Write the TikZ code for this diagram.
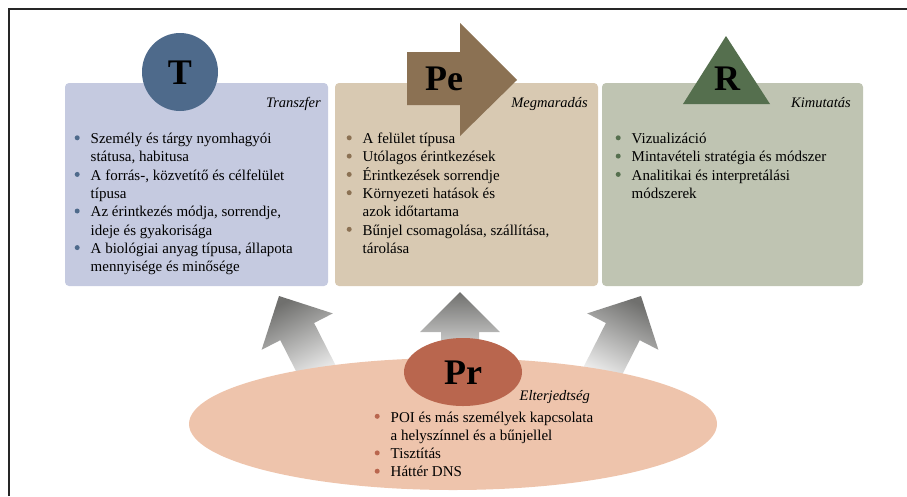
\documentclass[tikz,border=0pt]{standalone}
\usepackage{fontspec}
\setmainfont{Liberation Serif}
\usetikzlibrary{shapes.geometric}
\definecolor{tbox}{RGB}{197,202,224}
\definecolor{tcirc}{RGB}{78,106,139}
\definecolor{pebox}{RGB}{216,201,178}
\definecolor{pearr}{RGB}{139,113,83}
\definecolor{rbox}{RGB}{191,196,178}
\definecolor{rtri}{RGB}{85,111,78}
\definecolor{prell}{RGB}{238,196,172}
\definecolor{prcirc}{RGB}{185,102,78}
\definecolor{arrgray}{RGB}{112,112,110}
\newcommand\bl[1]{\makebox[16.5pt][l]{\hspace*{0.5pt}\textcolor{#1}{\rule{0pt}{0pt}\raisebox{3.2pt}{\tikz\fill (0pt,0pt) circle (2.5pt);}}}}
\newcommand\ind{\hspace*{16.5pt}}
\newcommand\bodyfont{\fontsize{15}{18.3}\selectfont}
\begin{document}
\begin{tikzpicture}[x=1pt,y=-1pt,
  panel/.style={fill=#1, draw=none, rounded corners=4pt, inner sep=0pt},
  lab/.style={font=\fontsize{14.5}{16}\selectfont\itshape, inner sep=0pt, anchor=base east},
  lst/.style={inner sep=0pt, anchor=base west, align=left},
  big/.style={font=\fontsize{36}{40}\selectfont\bfseries, inner sep=0pt},
  garrow/.style={top color=arrgray, bottom color=white, draw=none}]
\useasboundingbox (0,0) rectangle (907,496);
\draw[line width=1.6pt, black!85] (9,496) -- (9,9) -- (907,9);

% panels
\node[panel=tbox, minimum width=263pt, minimum height=203pt] (tpanel) at (196.5,184.5) {};
\node[panel=pebox, minimum width=263pt, minimum height=203pt] (pepanel) at (466.5,184.5) {};
\node[panel=rbox, minimum width=261pt, minimum height=203pt] (rpanel) at (732.5,184.5) {};

% symbols
\node[ellipse, fill=tcirc, minimum width=76pt, minimum height=78pt, inner sep=0pt] (tcir) at (180,72) {};
\node[big] (tt) at (180,73) {T};
\fill[pearr] (407,52) -- (460,52) -- (460,23) -- (517,80) -- (460,136) -- (460,105) -- (407,105) -- cycle;
\node[big] (pet) at (444,79) {Pe};
\fill[rtri] (726,36) -- (770,104) -- (683,104) -- cycle;
\node[big] (rt) at (727,79) {R};

% labels
\node[lab] (tl) at (321,107) {Transzfer};
\node[lab] (pl) at (588,107) {Megmaradás};
\node[lab] (rl) at (851,107) {Kimutatás};

% lists
\node[lst] (tlist) at (74,143.5) {\parbox[t]{250pt}{\bodyfont
\bl{tcirc}Személy és tárgy nyomhagyói\\
\ind státusa, habitusa\\
\bl{tcirc}A forrás-, közvetítő és célfelület\\
\ind típusa\\
\bl{tcirc}Az érintkezés módja, sorrendje,\\
\ind ideje és gyakorisága\\
\bl{tcirc}A biológiai anyag típusa, állapota\\
\ind mennyisége és minősége}};
\node[lst] (plist) at (346,143.5) {\parbox[t]{250pt}{\bodyfont
\bl{pearr}A felület típusa\\
\bl{pearr}Utólagos érintkezések\\
\bl{pearr}Érintkezések sorrendje\\
\bl{pearr}Környezeti hatások és\\
\ind azok időtartama\\
\bl{pearr}Bűnjel csomagolása, szállítása,\\
\ind tárolása}};
\node[lst] (rlist) at (615,143.5) {\parbox[t]{250pt}{\bodyfont
\bl{rtri}Vizualizáció\\
\bl{rtri}Mintavételi stratégia és módszer\\
\bl{rtri}Analitikai és interpretálási\\
\ind módszerek}};

% grey arrows
\shade[garrow, shading angle=27] (279,296) -- (332.8,313.4) -- (314.1,323) -- (341.3,376.5) -- (307.5,393.7) -- (280.3,340.2) -- (261.6,349.8) -- cycle;
\shade[garrow] (460,292) -- (500,332) -- (479,332) -- (479,375) -- (441,375) -- (441,332) -- (420,332) -- cycle;
\shade[garrow, shading angle=-27] (641,296) -- (587.2,313.4) -- (605.9,323) -- (578.7,376.5) -- (612.5,393.7) -- (639.7,340.2) -- (658.4,349.8) -- cycle;

% bottom ellipse
\node[ellipse, fill=prell, minimum width=528pt, minimum height=132pt, inner sep=0pt] (prbig) at (453,424) {};
\node[ellipse, fill=prcirc, minimum width=118pt, minimum height=68pt, inner sep=0pt] (prcir) at (463,372) {};
\node[big] (prt) at (463,373) {Pr};
\node[lab] (prl) at (590,400) {Elterjedtség};
\node[lst] (prlist) at (374,422) {\parbox[t]{250pt}{\bodyfont
\bl{prcirc}POI és más személyek kapcsolata\\
\ind a helyszínnel és a bűnjellel\\
\bl{prcirc}Tisztítás\\
\bl{prcirc}Háttér DNS}};
\end{tikzpicture}
\end{document}
